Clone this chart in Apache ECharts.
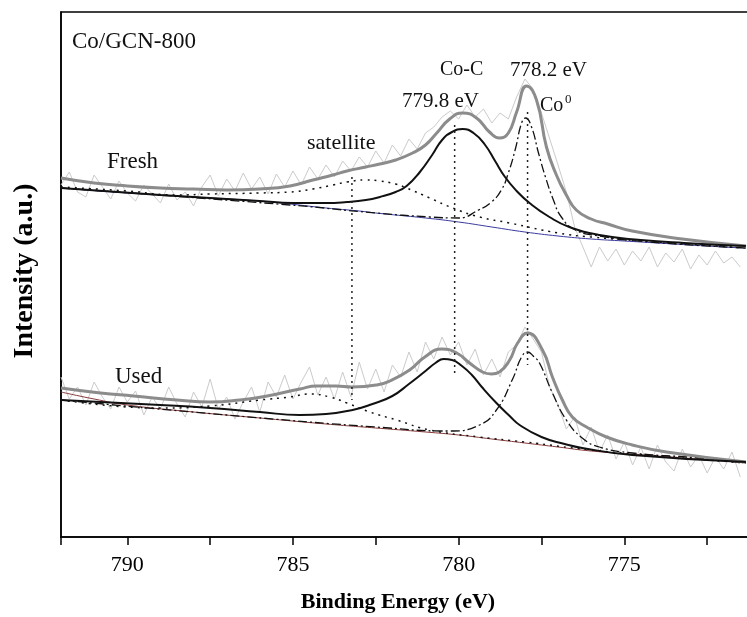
<!DOCTYPE html>
<html><head><meta charset="utf-8">
<script src="https://cdn.jsdelivr.net/npm/echarts@6/dist/echarts.min.js"></script>
<style>html,body{margin:0;padding:0;background:#fff}#c{width:747px;height:617px}</style>
</head><body><div id="c"></div>
<script>
// Binding energies (eV) of the raw spectra
const rawEnergy = [792,791.75,791.5,791.25,791,790.75,790.5,790.25,790,789.75,789.5,789.25,789,788.75,788.5,788.25,788,787.75,787.5,787.25,787,786.75,786.5,786.25,786,785.75,785.5,785.25,785,784.75,784.5,784.25,784,783.75,783.5,783.25,783,782.75,782.5,782.25,782,781.75,781.5,781.25,781,780.75,780.5,780.25,780,779.75,779.5,779.25,779,778.75,778.5,778.25,778,777.75,777.5,777.25,777,776.75,776.5,776.25,776,775.75,775.5,775.25,775,774.75,774.5,774.25,774,773.75,773.5,773.25,773,772.75,772.5,772.25,772,771.75,771.5];
// Raw intensities (a.u., offset spectra)
const freshRaw = [352,365,345,340,362,350,338,356,344,336,352,343,334,353,337,345,331,350,362,341,358,346,364,348,360,343,363,350,366,352,370,358,372,360,376,366,380,370,386,374,392,381,398,388,404,410,420,426,418,432,420,428,414,424,418,440,458,448,424,398,372,345,310,290,270,290,276,288,272,286,276,290,270,284,275,288,268,282,272,286,274,280,270];
const usedRaw = [160,138,150,132,155,140,128,150,135,146,122,140,128,150,133,120,145,130,158,128,140,118,135,150,125,155,140,162,138,155,170,142,160,138,165,140,175,148,168,145,172,160,185,165,195,178,200,182,195,172,188,162,178,160,185,192,210,198,185,150,132,108,120,92,110,85,102,78,95,72,90,68,92,75,66,88,70,82,64,80,68,85,60];

// Fitted curves: [binding energy, intensity]
const freshEnvelope = [[792,359],[791,354],[790,351],[789,349],[788,348],[787,347],[786,348],[785.09,351],[784.4,357],[783.8,362],[783.37,366],[782.8,370],[782.38,373],[781.9,377],[781.39,384],[781,392],[780.66,404],[780.27,418],[779.88,424],[779.46,419],[779.07,405],[778.77,399],[778.5,404],[778.25,425],[777.95,451],[777.65,437],[777.35,390],[777.05,362],[776.75,342],[776.45,327],[776,318],[775.5,313],[774.76,306],[773.25,298],[771.33,291]];
const freshCoC = [[792,349],[789,342],[786,336],[785,334],[784,334],[783.37,335],[782.8,337],[782.38,340],[781.9,345],[781.57,351],[781.17,365],[780.8,382],[780.5,397],[780.2,405],[779.88,408],[779.55,404],[779.2,392],[778.9,376],[778.6,360],[778.25,346],[777.86,334],[777.26,320],[776.66,310],[775.75,302],[774.5,297],[773.2,294],[771.33,291]];
const freshCo0 = [[792,349],[785.09,332],[782.5,324],[780.87,320],[780,319],[779.4,327],[779.01,335],[778.71,347],[778.5,364],[778.28,389],[778.1,414],[777.98,419],[777.8,410],[777.59,384],[777.38,360],[777.14,337],[776.9,320],[776.48,307],[775.75,301],[774.25,295],[771.33,289]];
const freshSatellite = [[792,350],[790,346],[788.49,342],[787.5,343],[786,344],[785.09,345],[784.4,348],[783.8,352],[783.37,355],[782.8,357],[782.38,356],[781.9,353],[781.57,349],[780.87,339],[780.18,329],[779.37,320],[778.46,314],[777,304],[776,300],[774,295],[771.33,289]];
const freshBackground = [[792,349],[790,344],[788,340],[786,336],[785.09,333],[784,329],[783,326],[782.5,324],[781,319],[780,315],[779,310],[778,305],[777,301],[776,298],[775,296],[774,294],[773,292],[772,290],[771.33,289]];

const usedEnvelope = [[792,149],[790.81,144],[789.82,141],[788.5,137],[787.5,135],[786.6,137],[785.78,141],[784.79,148],[784.28,151],[783.7,151],[783.22,150],[782.47,152],[782.08,156],[781.48,167],[781.02,180],[780.51,188],[780.06,184],[779.67,174],[779.28,165],[779.01,163],[778.77,165],[778.46,177],[778.22,194],[777.92,204],[777.47,187],[777.17,160],[776.87,137],[776.57,120],[776.14,110],[775.54,100],[774.76,92],[773.73,85],[771.33,75]];
const usedCoC = [[792,137],[789,132],[787.5,129],[786,125],[784.8,122],[784,123],[783.2,127],[782.6,133],[782,141],[781.5,153],[781,166],[780.7,174],[780.45,178],[780.2,177],[779.9,171],[779.6,162],[779.3,150],[778.86,134],[778.46,121],[778.16,112],[777.5,100],[776.8,93],[776.27,89],[774.76,82],[771.33,75]];
const usedCo0 = [[792,137],[787,122],[782.5,110],[780.27,106],[779.37,112],[778.86,127],[778.37,158],[778.1,180],[777.92,185],[777.75,181],[777.56,174],[777.17,144],[776.75,117],[776.27,99],[775.75,90],[774.76,84],[772.74,79],[771.33,74]];
const usedSatellite = [[792,137],[790,130],[789,129],[787.5,131],[786,137],[785.09,140],[784.49,143],[783.89,140],[783.37,134],[782.68,125],[781.87,117],[780.87,107],[779.37,100],[778,95],[776,87],[774,81],[771.33,74]];
const usedBackground = [[792,145],[791,138],[790,132],[788,125],[786,119],[784,113],[782.5,109],[781,105],[780,102],[779,98],[778,94],[777,90],[776,86],[774,81],[772,76],[771.33,74]];

// Peak position guide lines: energy, top, bottom
const guideEnergy = [783.22, 780.12, 777.92];
const guideTop = [360, 412, 425];
const guideBottom = [137, 164, 172];

const serif = '"Liberation Serif","Times New Roman",serif';
const chart = echarts.init(document.getElementById('c'));

function line(data, color, width, type, z, smooth) {
  return {type:'line', data:data, showSymbol:false, symbol:'none', animation:false, z:z,
    smooth: smooth === undefined ? 0.5 : smooth,
    lineStyle:{color:color, width:width, type:type || 'solid'}};
}
const dashDot = [9,3,2,3];
const dotted = [2,5];

const series = [
  line(rawEnergy.map((e,i)=>[e,freshRaw[i]]), '#cbcbcb', 1, 'solid', 1, false),
  line(rawEnergy.map((e,i)=>[e,usedRaw[i]]), '#cbcbcb', 1, 'solid', 1, false),
  line(freshBackground, '#3a3aa0', 1, 'solid', 2),
  line(usedBackground, '#8a3a3a', 1, 'solid', 2),
  line(freshSatellite, '#111', 1.5, dotted, 3),
  line(usedSatellite, '#111', 1.5, dotted, 3),
  line(freshCo0, '#111', 1.3, dashDot, 3),
  line(usedCo0, '#111', 1.3, dashDot, 3),
  line(freshEnvelope, '#8c8c8c', 3, 'solid', 4),
  line(usedEnvelope, '#8c8c8c', 3, 'solid', 4),
  line(freshCoC, '#111', 2, 'solid', 5),
  line(usedCoC, '#111', 2, 'solid', 5)
];
guideEnergy.forEach((e,i)=>{
  series.push(line([[e,guideTop[i]],[e,guideBottom[i]]], '#222', 1.5, [2,4], 6, false));
});

chart.setOption({
  backgroundColor:'#fff',
  animation:false,
  grid:{left:61, top:12, right:-43, bottom:80, outerBoundsMode:'none', containLabel:false,
    show:true, borderColor:'#000', borderWidth:1.5},
  xAxis:{type:'value', inverse:true, min:770, max:792, interval:2.5,
    axisLine:{show:true, lineStyle:{color:'#000', width:1.5}},
    axisTick:{show:true, inside:false, length:8, lineStyle:{color:'#000', width:1.5}},
    axisLabel:{fontSize:22, fontFamily:serif, color:'#000', margin:17,
      formatter:v => Math.abs(v % 5) < 1e-6 ? String(v) : ''},
    splitLine:{show:false}},
  yAxis:{type:'value', min:0, max:525,
    axisLine:{show:true, lineStyle:{color:'#000', width:1.5}},
    axisTick:{show:false}, axisLabel:{show:false}, splitLine:{show:false}},
  graphic:[
    {type:'text', x:72, y:42, style:{text:'Co/GCN-800', font:'23px '+serif, fill:'#111', textVerticalAlign:'middle'}},
    {type:'text', x:107, y:162, style:{text:'Fresh', font:'23px '+serif, fill:'#111', textVerticalAlign:'middle'}},
    {type:'text', x:115, y:377, style:{text:'Used', font:'23px '+serif, fill:'#111', textVerticalAlign:'middle'}},
    {type:'text', x:307, y:143, style:{text:'satellite', font:'22px '+serif, fill:'#111', textVerticalAlign:'middle'}},
    {type:'text', x:440, y:70, style:{text:'Co-C', font:'20px '+serif, fill:'#111', textVerticalAlign:'middle'}},
    {type:'text', x:510, y:70, style:{text:'778.2 eV', font:'21px '+serif, fill:'#111', textVerticalAlign:'middle'}},
    {type:'text', x:402, y:101, style:{text:'779.8 eV', font:'21px '+serif, fill:'#111', textVerticalAlign:'middle'}},
    {type:'text', x:540, y:106, style:{text:'Co', font:'20px '+serif, fill:'#111', textVerticalAlign:'middle'}},
    {type:'text', x:565, y:100, style:{text:'0', font:'13px '+serif, fill:'#111', textVerticalAlign:'middle'}},
    {type:'text', x:398, y:602, style:{text:'Binding Energy (eV)', font:'bold 22px '+serif, fill:'#000', textAlign:'center', textVerticalAlign:'middle'}},
    {type:'text', x:25, y:271, rotation:Math.PI/2, style:{text:'Intensity (a.u.)', font:'bold 28px '+serif, fill:'#000', textAlign:'center', textVerticalAlign:'middle'}}
  ],
  series:series
});
</script></body></html>
